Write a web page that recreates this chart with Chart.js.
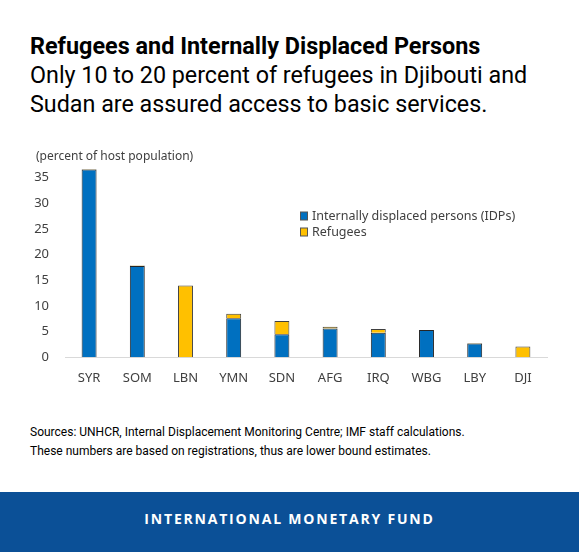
<!DOCTYPE html>
<html>
<head>
<meta charset="utf-8">
<script src="https://cdn.jsdelivr.net/npm/chart.js@4.4.1/dist/chart.umd.min.js"></script>
<style>
  body { margin: 0; width: 579px; height: 552px; background: #fff; position: relative; overflow: hidden; }
  .title { position: absolute; left: 30px; top: 31.6px; font: bold 23.4px Roboto, sans-serif; color: #000; white-space: nowrap; }
  .subtitle { position: absolute; left: 30px; top: 60.8px; font: 23.3px/29px Roboto, sans-serif; color: #000; white-space: nowrap; }
  .chart { position: absolute; left: 0; top: 140px; width: 579px; height: 270px; }
  .notes { position: absolute; left: 30px; top: 423.4px; font: 12px/18.5px Roboto, sans-serif; color: #000; white-space: nowrap; }
  .band { position: absolute; left: 0; top: 492px; width: 579px; height: 60px; background: #0b5097;
          color: #fff; font: bold 14px "Open Sans", sans-serif; letter-spacing: 1.8px; text-align: center; line-height: 54px; }
</style>
</head>
<body>
<div class="title">Refugees and Internally Displaced Persons</div>
<div class="subtitle">Only 10 to 20 percent of refugees in Djibouti and<br>Sudan are assured access to basic services.</div>
<div class="chart"><canvas id="myChart"></canvas></div>
<div class="notes">Sources: UNHCR, Internal Displacement Monitoring Centre; IMF staff calculations.<br>These numbers are based on registrations, thus are lower bound estimates.</div>
<div class="band">INTERNATIONAL MONETARY FUND</div>
<script>
const labels = ["SYR", "SOM", "LBN", "YMN", "SDN", "AFG", "IRQ", "WBG", "LBY", "DJI"];
const idps = [36.6, 17.8, 0, 7.6, 4.5, 5.6, 4.8, 5.3, 2.7, 0];
const refugees = [0.1, 0.1, 14.0, 0.9, 2.6, 0.35, 0.7, 0, 0.1, 2.1];
const yTicks = [0, 5, 10, 15, 20, 25, 30, 35];

const textColor = "#404040";
const chartFont = "'Noto Sans', sans-serif";

const axisTitle = {
  id: "axisTitle",
  afterDraw(chart) {
    const ctx = chart.ctx;
    ctx.save();
    ctx.font = "12px " + chartFont;
    ctx.fillStyle = textColor;
    ctx.textBaseline = "middle";
    ctx.fillText("(percent of host population)", 36, 17);
    ctx.restore();
  },
};

const boxLegend = {
  id: "boxLegend",
  afterDraw(chart) {
    const ctx = chart.ctx;
    ctx.save();
    ctx.font = "12.5px " + chartFont;
    ctx.textBaseline = "middle";
    chart.data.datasets.forEach((ds, i) => {
      const y = 76 + i * 16;
      ctx.fillStyle = ds.backgroundColor;
      ctx.fillRect(300.5, y - 4, 7, 8);
      ctx.strokeStyle = "#555";
      ctx.lineWidth = 1;
      ctx.strokeRect(300.5, y - 4, 7, 8);
      ctx.fillStyle = textColor;
      ctx.fillText(ds.label, 312, y);
    });
    ctx.restore();
  },
};

new Chart(document.getElementById("myChart"), {
  type: "bar",
  data: {
    labels: labels,
    datasets: [
      {
        label: "Internally displaced persons (IDPs)",
        data: idps,
        backgroundColor: "#0070c0",
        borderColor: "#262626",
        borderWidth: 1,
        barPercentage: 0.31,
        categoryPercentage: 1,
      },
      {
        label: "Refugees",
        data: refugees,
        backgroundColor: "#ffc000",
        borderColor: "#404040",
        borderWidth: 1,
        barPercentage: 0.31,
        categoryPercentage: 1,
      },
    ],
  },
  options: {
    responsive: true,
    maintainAspectRatio: false,
    animation: false,
    layout: { padding: { top: 27.5, right: 32, left: 0, bottom: 0 } },
    plugins: { legend: { display: false }, tooltip: { enabled: false } },
    scales: {
      x: {
        stacked: true,
        grid: { display: false, drawTicks: false },
        border: { display: true, color: "#d9d9d9", width: 1 },
        ticks: { color: textColor, font: { family: chartFont, size: 13 }, padding: 13 },
        afterFit: (scale) => { scale.height = 52.7; },
      },
      y: {
        stacked: true,
        min: 0,
        max: 37,
        grid: { display: false, drawTicks: false },
        border: { display: false },
        ticks: { color: textColor, font: { family: chartFont, size: 13 }, padding: 16 },
        afterBuildTicks: (scale) => { scale.ticks = yTicks.map((v) => ({ value: v })); },
        afterFit: (scale) => { scale.width = 65; },
      },
    },
  },
  plugins: [axisTitle, boxLegend],
});
</script>
</body>
</html>
